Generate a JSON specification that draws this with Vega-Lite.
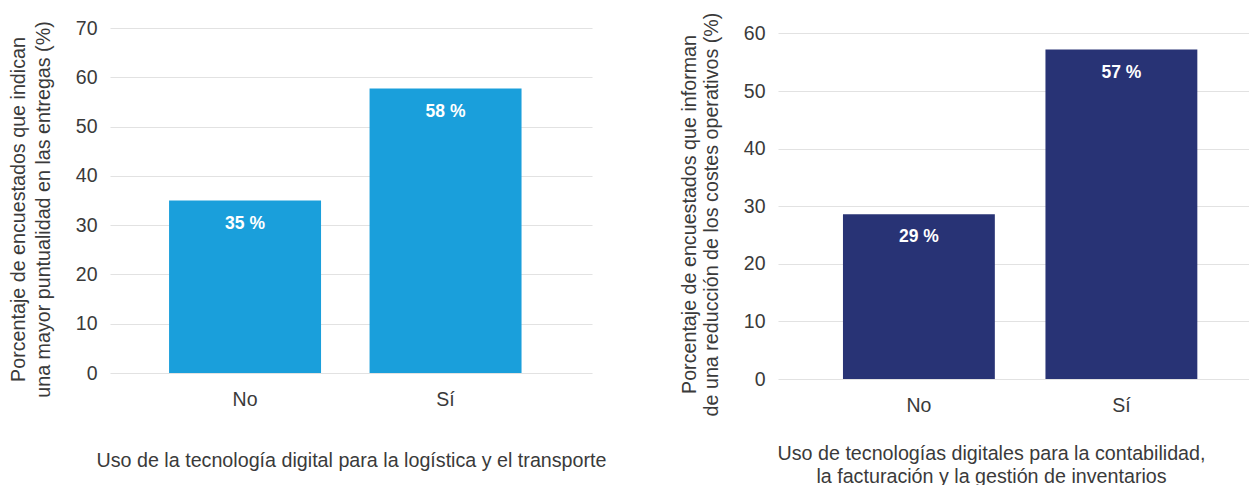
{
  "$schema": "https://vega.github.io/schema/vega-lite/v6.json",
  "background": "white",
  "padding": {"left": 8, "top": 12, "right": 0, "bottom": 0},
  "spacing": 73,
  "config": {
    "view": {"stroke": null},
    "font": "Liberation Sans",
    "axis": {
      "labelFont": "Liberation Sans",
      "titleFont": "Liberation Sans",
      "labelFontSize": 19.5,
      "titleFontSize": 19.7,
      "titleFontWeight": "normal",
      "labelColor": "#3a3a3a",
      "titleColor": "#3a3a3a",
      "domain": false,
      "ticks": false,
      "gridColor": "#e2e2e2",
      "gridWidth": 1.2,
      "titleLineHeight": 25
    }
  },
  "hconcat": [
    {
      "width": 482,
      "height": 345,
      "data": {"values": [
        {"uso": "No", "pct": 35.0, "label": "35 %"},
        {"uso": "Sí", "pct": 57.7, "label": "58 %"}
      ]},
      "encoding": {
        "x": {"field": "uso", "type": "nominal", "sort": ["No", "Sí"],
          "scale": {"paddingInner": 0.242, "paddingOuter": 0.323, "align": 0.456},
          "axis": {"labelAngle": 0, "labelPadding": 17, "titlePadding": 42,
            "title": "Uso de la tecnología digital para la logística y el transporte"}},
        "y": {"field": "pct", "type": "quantitative",
          "scale": {"domain": [0, 70], "nice": false},
          "axis": {"values": [0, 10, 20, 30, 40, 50, 60, 70], "labelPadding": 13, "titlePadding": 22, "titleY": 181,
            "title": ["Porcentaje de encuestados que indican", "una mayor puntualidad en las entregas (%)"]}}
      },
      "layer": [
        {"mark": {"type": "bar", "color": "#1a9fdb"}},
        {"mark": {"type": "text", "color": "white", "fontWeight": "bold", "fontSize": 17.5, "baseline": "middle", "dy": 23},
          "encoding": {"text": {"field": "label"}}}
      ]
    },
    {
      "width": 471,
      "height": 351,
      "data": {"values": [
        {"uso": "No", "pct": 28.6, "label": "29 %"},
        {"uso": "Sí", "pct": 57.2, "label": "57 %"}
      ]},
      "encoding": {
        "x": {"field": "uso", "type": "nominal", "sort": ["No", "Sí"],
          "scale": {"paddingInner": 0.25, "paddingOuter": 0.288, "align": 0.557},
          "axis": {"labelAngle": 0, "labelPadding": 17, "titlePadding": 29, "titleX": 213, "titleLineHeight": 23,
            "title": ["Uso de tecnologías digitales para la contabilidad,", "la facturación y la gestión de inventarios"]}},
        "y": {"field": "pct", "type": "quantitative",
          "scale": {"domain": [0, 60.94], "nice": false},
          "axis": {"values": [0, 10, 20, 30, 40, 50, 60], "labelPadding": 13, "titlePadding": 22, "titleLineHeight": 22, "titleY": 186,
            "title": ["Porcentaje de encuestados que informan", "de una reducción de los costes operativos (%)"]}}
      },
      "layer": [
        {"mark": {"type": "bar", "color": "#283375"}},
        {"mark": {"type": "text", "color": "white", "fontWeight": "bold", "fontSize": 17.5, "baseline": "middle", "dy": 23},
          "encoding": {"text": {"field": "label"}}}
      ]
    }
  ]
}
